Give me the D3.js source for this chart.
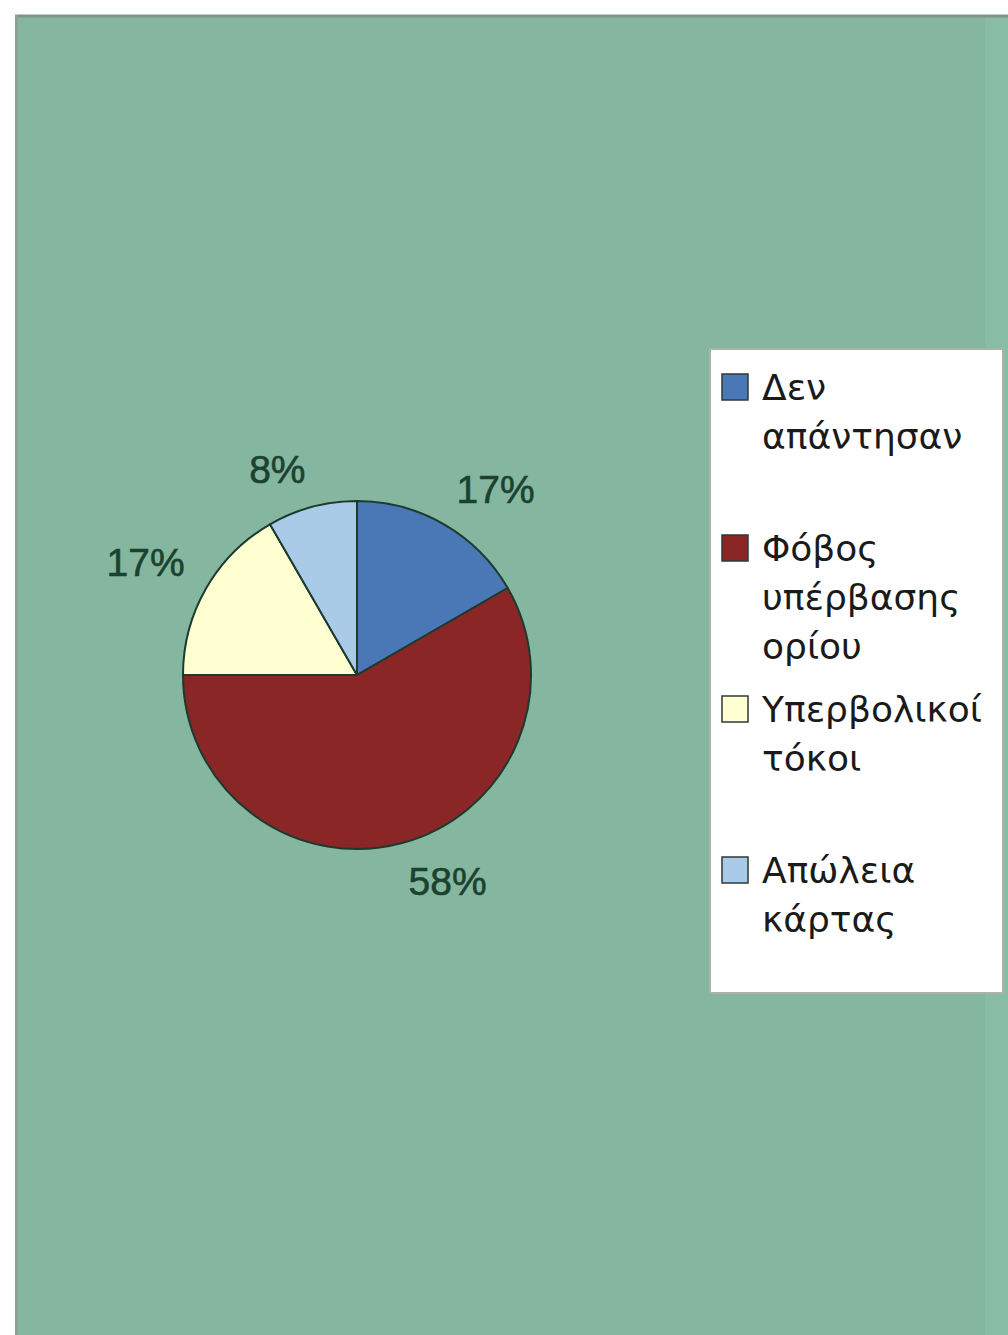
<!DOCTYPE html>
<html>
<head>
<meta charset="utf-8">
<script src="https://cdn.jsdelivr.net/npm/d3@7"></script>
<style>
  html, body { margin: 0; padding: 0; background: #ffffff; }
  svg { display: block; }
</style>
</head>
<body>
<svg id="chart" width="1008" height="1335"></svg>
<script>
// ---- data ----
const categories = ["Δεν απαντησαν", "Φόβος υπέρβασης ορίου", "Υπερβολικοί τόκοι", "Απώλεια κάρτας"];
const legendLines = [["Δεν", "απάντησαν"], ["Φόβος", "υπέρβασης", "ορίου"], ["Υπερβολικοί", "τόκοι"], ["Απώλεια", "κάρτας"]];
const values = [2, 7, 2, 1];
const percentLabels = ["17%", "58%", "17%", "8%"];
const colors = ["#4a77b6", "#8a2626", "#ffffd2", "#a9cbe8"];

const W = 1008, H = 1335;
const svg = d3.select("#chart");

// background (scanned page area)
svg.append("rect").attr("x", 0).attr("y", 0).attr("width", W).attr("height", H).attr("fill", "#ffffff");
svg.append("rect").attr("x", 15).attr("y", 15).attr("width", W - 15).attr("height", H - 15).attr("fill", "#85b69f");
svg.append("rect").attr("x", 985).attr("y", 15).attr("width", 23).attr("height", H - 15).attr("fill", "#8cbfa8").attr("opacity", 0.6);
svg.append("line").attr("x1", 15).attr("x2", W).attr("y1", 16).attr("y2", 16).attr("stroke", "#7f948a").attr("stroke-width", 3);
svg.append("line").attr("x1", 16.5).attr("x2", 16.5).attr("y1", 15).attr("y2", H).attr("stroke", "#8aa497").attr("stroke-width", 3);

// ---- pie ----
const cx = 357, cy = 675, R = 174;
const pie = d3.pie().sort(null).value(d => d)(values);
const arc = d3.arc().innerRadius(0).outerRadius(R);
const g = svg.append("g").attr("transform", `translate(${cx},${cy})`);
g.selectAll("path.slice").data(pie).enter().append("path")
  .attr("class", "slice")
  .attr("d", arc)
  .attr("fill", (d, i) => colors[i])
  .attr("stroke", "#1c3a2e")
  .attr("stroke-width", 2)
  .attr("stroke-linejoin", "round");

// labels: nearest corner of label box sits on a circle outside the pie
const labelArc = d3.arc().innerRadius(R + 25).outerRadius(R + 25);
const fontSize = 39, capH = fontSize * 0.72;
g.selectAll("text.pct").data(pie).enter().append("text")
  .attr("class", "pct")
  .each(function(d, i) {
    const [x, y] = labelArc.centroid(d);
    const mid = (d.startAngle + d.endAngle) / 2;
    const right = Math.sin(mid) >= 0;
    const top = Math.cos(mid) >= 0;
    d3.select(this)
      .attr("x", x)
      .attr("y", top ? y : y + capH)
      .attr("text-anchor", right ? "start" : "end");
  })
  .attr("font-family", "'Liberation Sans', Arial, sans-serif")
  .attr("font-size", fontSize)
  .attr("fill", "#1b4230")
  .attr("stroke", "#1b4230")
  .attr("stroke-width", 0.6)
  .text((d, i) => percentLabels[i]);

// ---- legend ----
const lx = 710, ly = 349, lw = 293, lh = 644;
svg.append("rect").attr("x", lx).attr("y", ly).attr("width", lw).attr("height", lh)
  .attr("fill", "#ffffff").attr("stroke", "#a9b3ad").attr("stroke-width", 2);

const slot = 161, firstBase = 400, lineH = 49;
const leg = svg.append("g");
legendLines.forEach((lines, i) => {
  const base = firstBase + i * slot;
  leg.append("rect")
    .attr("x", 722).attr("y", base - 13 - 13)
    .attr("width", 26).attr("height", 26)
    .attr("fill", colors[i]).attr("stroke", "#2e3a36").attr("stroke-width", 1.5);
  const t = leg.append("text")
    .attr("x", 762).attr("y", base)
    .attr("font-family", "'DejaVu Sans', sans-serif")
    .attr("font-size", 36)
    .attr("fill", "#1a1a1a");
  lines.forEach((ln, j) => {
    t.append("tspan").attr("x", 762).attr("y", base + j * lineH).text(ln);
  });
});
</script>
</body>
</html>
